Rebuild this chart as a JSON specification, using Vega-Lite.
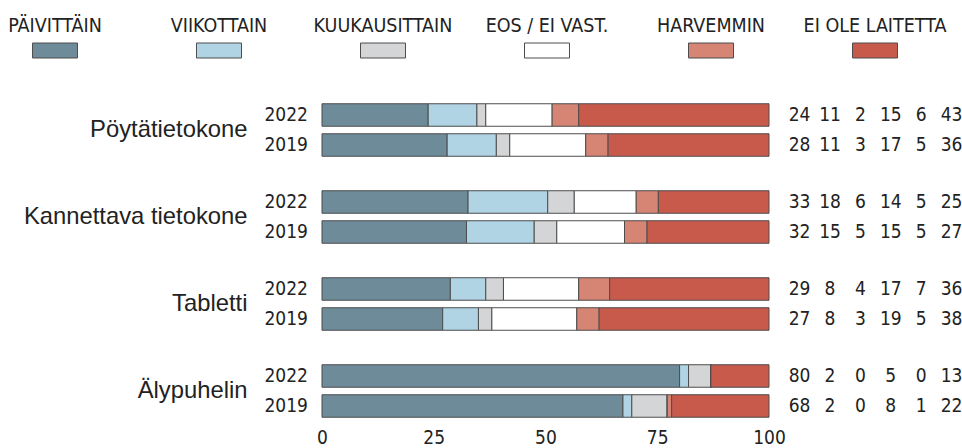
{
  "$schema": "https://vega.github.io/schema/vega-lite/v6.json",
  "padding": {"left": 8, "top": 16, "right": 0, "bottom": 0},
  "background": "white",
  "config": {
    "view": {"stroke": null},
    "font": "'DejaVu Sans Condensed', sans-serif"
  },
  "datasets": {
    "legend": [
      {"c": "PÄIVITTÄIN"}, {"c": "VIIKOTTAIN"}, {"c": "KUUKAUSITTAIN"},
      {"c": "EOS / EI VAST."}, {"c": "HARVEMMIN"}, {"c": "EI OLE LAITETTA"}
    ],
    "main": [
      {"d": "Pöytätietokone", "y": "2022", "c": "PÄIVITTÄIN", "k": 0, "v": 24, "n": 24},
      {"d": "Pöytätietokone", "y": "2022", "c": "VIIKOTTAIN", "k": 1, "v": 11, "n": 11},
      {"d": "Pöytätietokone", "y": "2022", "c": "KUUKAUSITTAIN", "k": 2, "v": 2, "n": 2},
      {"d": "Pöytätietokone", "y": "2022", "c": "EOS / EI VAST.", "k": 3, "v": 15, "n": 15},
      {"d": "Pöytätietokone", "y": "2022", "c": "HARVEMMIN", "k": 4, "v": 6, "n": 6},
      {"d": "Pöytätietokone", "y": "2022", "c": "EI OLE LAITETTA", "k": 5, "v": 43, "n": 43},
      {"d": "Pöytätietokone", "y": "2019", "c": "PÄIVITTÄIN", "k": 0, "v": 28, "n": 28},
      {"d": "Pöytätietokone", "y": "2019", "c": "VIIKOTTAIN", "k": 1, "v": 11, "n": 11},
      {"d": "Pöytätietokone", "y": "2019", "c": "KUUKAUSITTAIN", "k": 2, "v": 3, "n": 3},
      {"d": "Pöytätietokone", "y": "2019", "c": "EOS / EI VAST.", "k": 3, "v": 17, "n": 17},
      {"d": "Pöytätietokone", "y": "2019", "c": "HARVEMMIN", "k": 4, "v": 5, "n": 5},
      {"d": "Pöytätietokone", "y": "2019", "c": "EI OLE LAITETTA", "k": 5, "v": 36, "n": 36},
      {"d": "Kannettava tietokone", "y": "2022", "c": "PÄIVITTÄIN", "k": 0, "v": 33, "n": 33},
      {"d": "Kannettava tietokone", "y": "2022", "c": "VIIKOTTAIN", "k": 1, "v": 18, "n": 18},
      {"d": "Kannettava tietokone", "y": "2022", "c": "KUUKAUSITTAIN", "k": 2, "v": 6, "n": 6},
      {"d": "Kannettava tietokone", "y": "2022", "c": "EOS / EI VAST.", "k": 3, "v": 14, "n": 14},
      {"d": "Kannettava tietokone", "y": "2022", "c": "HARVEMMIN", "k": 4, "v": 5, "n": 5},
      {"d": "Kannettava tietokone", "y": "2022", "c": "EI OLE LAITETTA", "k": 5, "v": 25, "n": 25},
      {"d": "Kannettava tietokone", "y": "2019", "c": "PÄIVITTÄIN", "k": 0, "v": 32, "n": 32},
      {"d": "Kannettava tietokone", "y": "2019", "c": "VIIKOTTAIN", "k": 1, "v": 15, "n": 15},
      {"d": "Kannettava tietokone", "y": "2019", "c": "KUUKAUSITTAIN", "k": 2, "v": 5, "n": 5},
      {"d": "Kannettava tietokone", "y": "2019", "c": "EOS / EI VAST.", "k": 3, "v": 15, "n": 15},
      {"d": "Kannettava tietokone", "y": "2019", "c": "HARVEMMIN", "k": 4, "v": 5, "n": 5},
      {"d": "Kannettava tietokone", "y": "2019", "c": "EI OLE LAITETTA", "k": 5, "v": 27, "n": 27},
      {"d": "Tabletti", "y": "2022", "c": "PÄIVITTÄIN", "k": 0, "v": 29, "n": 29},
      {"d": "Tabletti", "y": "2022", "c": "VIIKOTTAIN", "k": 1, "v": 8, "n": 8},
      {"d": "Tabletti", "y": "2022", "c": "KUUKAUSITTAIN", "k": 2, "v": 4, "n": 4},
      {"d": "Tabletti", "y": "2022", "c": "EOS / EI VAST.", "k": 3, "v": 17, "n": 17},
      {"d": "Tabletti", "y": "2022", "c": "HARVEMMIN", "k": 4, "v": 7, "n": 7},
      {"d": "Tabletti", "y": "2022", "c": "EI OLE LAITETTA", "k": 5, "v": 36, "n": 36},
      {"d": "Tabletti", "y": "2019", "c": "PÄIVITTÄIN", "k": 0, "v": 27, "n": 27},
      {"d": "Tabletti", "y": "2019", "c": "VIIKOTTAIN", "k": 1, "v": 8, "n": 8},
      {"d": "Tabletti", "y": "2019", "c": "KUUKAUSITTAIN", "k": 2, "v": 3, "n": 3},
      {"d": "Tabletti", "y": "2019", "c": "EOS / EI VAST.", "k": 3, "v": 19, "n": 19},
      {"d": "Tabletti", "y": "2019", "c": "HARVEMMIN", "k": 4, "v": 5, "n": 5},
      {"d": "Tabletti", "y": "2019", "c": "EI OLE LAITETTA", "k": 5, "v": 38, "n": 38},
      {"d": "Älypuhelin", "y": "2022", "c": "PÄIVITTÄIN", "k": 0, "v": 80, "n": 80},
      {"d": "Älypuhelin", "y": "2022", "c": "VIIKOTTAIN", "k": 1, "v": 2, "n": 2},
      {"d": "Älypuhelin", "y": "2022", "c": "KUUKAUSITTAIN", "k": 2, "v": 5, "n": 0},
      {"d": "Älypuhelin", "y": "2022", "c": "EOS / EI VAST.", "k": 3, "v": 0, "n": 5},
      {"d": "Älypuhelin", "y": "2022", "c": "HARVEMMIN", "k": 4, "v": 0, "n": 0},
      {"d": "Älypuhelin", "y": "2022", "c": "EI OLE LAITETTA", "k": 5, "v": 13, "n": 13},
      {"d": "Älypuhelin", "y": "2019", "c": "PÄIVITTÄIN", "k": 0, "v": 68, "n": 68},
      {"d": "Älypuhelin", "y": "2019", "c": "VIIKOTTAIN", "k": 1, "v": 2, "n": 2},
      {"d": "Älypuhelin", "y": "2019", "c": "KUUKAUSITTAIN", "k": 2, "v": 8, "n": 0},
      {"d": "Älypuhelin", "y": "2019", "c": "EOS / EI VAST.", "k": 3, "v": 0, "n": 8},
      {"d": "Älypuhelin", "y": "2019", "c": "HARVEMMIN", "k": 4, "v": 1, "n": 1},
      {"d": "Älypuhelin", "y": "2019", "c": "EI OLE LAITETTA", "k": 5, "v": 22, "n": 22}
    ]
  },
  "spacing": 41,
  "vconcat": [
    {
      "width": 914,
      "height": 15,
      "data": {"name": "legend"},
      "encoding": {
        "x": {
          "field": "c", "type": "nominal",
          "scale": {"domain": ["PÄIVITTÄIN", "VIIKOTTAIN", "KUUKAUSITTAIN", "EOS / EI VAST.", "HARVEMMIN", "EI OLE LAITETTA"], "paddingInner": 0.72561, "paddingOuter": 0.14939},
          "axis": null
        }
      },
      "layer": [
        {
          "mark": {"type": "rect", "stroke": "#4d4d4d", "strokeWidth": 1},
          "encoding": {
            "color": {
              "field": "c", "type": "nominal",
              "scale": {"domain": ["PÄIVITTÄIN", "VIIKOTTAIN", "KUUKAUSITTAIN", "EOS / EI VAST.", "HARVEMMIN", "EI OLE LAITETTA"], "range": ["#6e8b9a", "#b0d4e4", "#d4d5d7", "#ffffff", "#d68474", "#c85a4c"]},
              "legend": null
            }
          }
        },
        {
          "mark": {"type": "text", "dy": -24.5, "fontSize": 19.5, "color": "#222222", "baseline": "middle", "align": "center"},
          "encoding": {"text": {"field": "c"}}
        }
      ]
    },
    {
      "spacing": 2.5,
      "hconcat": [
        {
          "width": 761,
          "height": 321,
          "data": {"name": "main"},
          "encoding": {
            "y": {
              "field": "d", "type": "nominal",
              "scale": {"domain": ["Pöytätietokone", "Kannettava tietokone", "Tabletti", "Älypuhelin"], "paddingInner": 0.3103, "paddingOuter": 0},
              "axis": {"title": null, "ticks": false, "domain": false, "offset": -239, "labelPadding": 0, "labelFontSize": 23.8, "labelFont": "'Liberation Sans', Arial, sans-serif", "labelColor": "#222222", "labelLimit": 400}
            },
            "yOffset": {
              "field": "y", "type": "nominal",
              "scale": {"domain": ["2022", "2019"], "paddingInner": 0.25, "paddingOuter": 0.125}
            }
          },
          "layer": [
            {
              "mark": {"type": "bar", "stroke": "#4d4d4d", "strokeWidth": 1},
              "encoding": {
                "x": {
                  "field": "v", "type": "quantitative", "stack": "normalize",
                  "scale": {"domain": [-0.70246, 1], "nice": false, "zero": false},
                  "axis": {"title": null, "values": [0, 0.25, 0.5, 0.75, 1], "labelExpr": "format(datum.value * 100, 'd')", "ticks": false, "domain": false, "grid": false, "labelPadding": 7, "labelFontSize": 19, "labelColor": "#222222", "labelFlush": false}
                },
                "color": {
                  "field": "c", "type": "nominal",
                  "scale": {"domain": ["PÄIVITTÄIN", "VIIKOTTAIN", "KUUKAUSITTAIN", "EOS / EI VAST.", "HARVEMMIN", "EI OLE LAITETTA"], "range": ["#6e8b9a", "#b0d4e4", "#d4d5d7", "#ffffff", "#d68474", "#c85a4c"]},
                  "legend": null
                },
                "order": {"field": "k", "type": "quantitative"}
              }
            },
            {
              "transform": [{"filter": "datum.k == 0"}],
              "mark": {"type": "text", "align": "right", "baseline": "middle", "dx": -14, "fontSize": 19, "color": "#222222"},
              "encoding": {
                "x": {"datum": 0, "type": "quantitative"},
                "text": {"field": "y"}
              }
            }
          ]
        },
        {
          "width": 170.2,
          "height": 321,
          "data": {"name": "main"},
          "mark": {"type": "text", "fontSize": 19, "color": "#222222", "baseline": "middle", "align": "center"},
          "encoding": {
            "x": {
              "field": "c", "type": "nominal",
              "scale": {"type": "point", "domain": ["PÄIVITTÄIN", "VIIKOTTAIN", "KUUKAUSITTAIN", "EOS / EI VAST.", "HARVEMMIN", "EI OLE LAITETTA"], "padding": 0.3},
              "axis": null
            },
            "y": {
              "field": "d", "type": "nominal",
              "scale": {"domain": ["Pöytätietokone", "Kannettava tietokone", "Tabletti", "Älypuhelin"], "paddingInner": 0.3103, "paddingOuter": 0},
              "axis": null
            },
            "yOffset": {
              "field": "y", "type": "nominal",
              "scale": {"domain": ["2022", "2019"], "paddingInner": 0.25, "paddingOuter": 0.125}
            },
            "text": {"field": "n"}
          }
        }
      ]
    }
  ]
}
